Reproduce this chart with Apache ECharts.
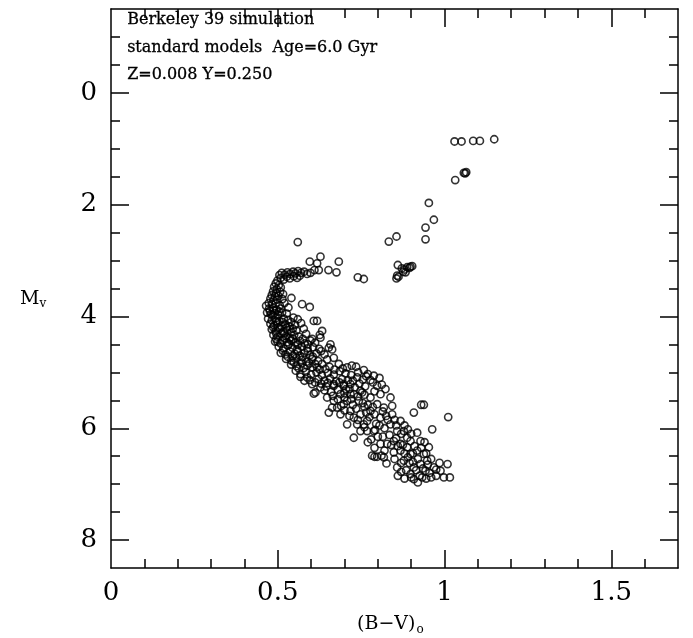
<!DOCTYPE html>
<html>
<head>
<meta charset="utf-8">
<script src="https://cdn.jsdelivr.net/npm/echarts@6/dist/echarts.min.js"></script>
<style>
  html, body { margin: 0; padding: 0; background: #fff; }
  #chart { width: 693px; height: 638px; }
</style>
</head>
<body>
<div id="chart"></div>
<script>
// Colour–magnitude diagram: (B-V)o against Mv, one open circle per simulated star.

// Red giant branch and red clump
const giantBranch = [
  [1.030,0.87],[1.051,0.87],[1.086,0.86],[1.106,0.86],[1.149,0.83],
  [1.058,1.43],[1.062,1.44],[1.065,1.42],[1.032,1.56],
  [0.953,1.97],[0.968,2.27],[0.943,2.41],[0.943,2.62],
  [0.833,2.66],[0.856,2.57],
  [0.860,3.08],[0.872,3.14],[0.880,3.16],[0.888,3.12],[0.898,3.11],[0.903,3.10],[0.895,3.13],
  [0.876,3.20],[0.883,3.21],[0.858,3.27],[0.856,3.32],[0.862,3.29]
];

// Subgiant branch
const subgiantBranch = [
  [0.560,2.67],[0.628,2.93],[0.596,3.02],[0.618,3.05],[0.683,3.02],[0.652,3.17],
  [0.676,3.21],[0.610,3.17],[0.623,3.17],[0.740,3.30],[0.758,3.33]
];

// Turn-off hook
const turnoff = [
  [0.505,3.26],[0.512,3.22],[0.521,3.25],[0.529,3.21],[0.537,3.24],[0.546,3.20],[0.553,3.23],
  [0.561,3.19],[0.570,3.22],[0.579,3.20],[0.588,3.24],[0.598,3.22],[0.509,3.31],[0.518,3.34],
  [0.527,3.29],[0.536,3.32],[0.548,3.28],[0.558,3.31],[0.566,3.27],[0.499,3.36],[0.494,3.41],
  [0.503,3.44],[0.489,3.47],[0.497,3.51],[0.509,3.48],[0.486,3.55],[0.495,3.58],[0.507,3.56],
  [0.482,3.62],[0.491,3.64],[0.502,3.63],[0.516,3.60],[0.478,3.68],[0.487,3.71],[0.498,3.70],
  [0.514,3.69],[0.541,3.67],[0.473,3.76],[0.483,3.78],[0.494,3.77],[0.506,3.80],[0.520,3.76],
  [0.465,3.81],[0.474,3.86],[0.486,3.85],[0.497,3.88],[0.509,3.86],[0.532,3.84],[0.573,3.78],
  [0.596,3.83]
];

// Upper main sequence
const upperMainSeq = [
  [0.468,3.93],[0.479,3.96],[0.490,3.94],[0.501,3.97],[0.513,3.93],[0.527,3.95],[0.484,3.98],
  [0.471,4.04],[0.482,4.07],[0.494,4.03],[0.505,4.08],[0.518,4.04],[0.531,4.06],[0.547,4.02],
  [0.608,4.08],[0.618,4.08],[0.478,4.13],[0.489,4.16],[0.499,4.12],[0.511,4.17],[0.523,4.14],
  [0.536,4.18],[0.552,4.15],[0.570,4.12],[0.482,4.23],[0.494,4.26],[0.506,4.22],[0.517,4.27],
  [0.529,4.24],[0.541,4.28],[0.556,4.25],[0.578,4.22],[0.633,4.26],[0.626,4.33],[0.628,4.38],
  [0.487,4.33],[0.499,4.36],[0.511,4.31],[0.524,4.35],[0.536,4.38],[0.549,4.33],[0.563,4.36],
  [0.585,4.31],[0.603,4.40],[0.492,4.45],[0.499,4.45],[0.514,4.42],[0.527,4.46],[0.540,4.43],
  [0.553,4.47],[0.567,4.44],[0.581,4.48],[0.598,4.43],[0.612,4.47],[0.658,4.50],[0.653,4.56],
  [0.663,4.59],[0.503,4.54],[0.517,4.57],[0.530,4.52],[0.544,4.56],[0.558,4.59],[0.572,4.54],
  [0.589,4.57],[0.606,4.55],[0.624,4.58],[0.509,4.65],[0.523,4.68],[0.537,4.63],[0.551,4.67],
  [0.566,4.70],[0.580,4.65],[0.597,4.69],[0.616,4.66],[0.640,4.68],
  [0.476,3.90],[0.488,3.89],[0.503,3.91],[0.495,4.09],[0.486,4.19],[0.500,4.20],[0.515,4.10],
  [0.526,4.20],[0.540,4.10],[0.560,4.05],[0.495,4.40],[0.508,4.48],[0.521,4.39],[0.534,4.49],
  [0.546,4.40],[0.560,4.51],[0.575,4.40],[0.590,4.50],[0.515,4.61],[0.530,4.72],[0.545,4.71],
  [0.560,4.62],[0.574,4.73],[0.590,4.62],[0.605,4.72],[0.630,4.62],[0.495,4.30],[0.520,4.30],
  [0.545,4.22]
];

// Middle main sequence
const midMainSeq = [
  [0.525,4.76],[0.541,4.79],[0.556,4.74],[0.571,4.78],[0.586,4.81],[0.603,4.76],[0.621,4.80],
  [0.648,4.77],[0.668,4.74],[0.540,4.86],[0.556,4.89],[0.572,4.84],[0.588,4.88],[0.604,4.91],
  [0.618,4.91],[0.633,4.85],[0.643,4.94],[0.683,4.85],[0.708,4.91],[0.722,4.88],[0.735,4.90],
  [0.758,4.96],[0.770,5.03],[0.788,5.06],[0.554,4.97],[0.568,5.03],[0.584,4.99],[0.600,5.04],
  [0.616,5.00],[0.632,5.05],[0.650,5.01],[0.668,5.04],[0.686,4.98],[0.703,5.02],[0.720,5.05],
  [0.741,5.00],[0.568,5.08],[0.588,5.09],[0.603,5.21],[0.622,5.12],[0.640,5.15],[0.657,5.11],
  [0.675,5.16],[0.693,5.12],[0.710,5.14],[0.738,5.09],[0.755,5.13],[0.778,5.14],[0.805,5.10],
  [0.668,5.21],[0.698,5.21],[0.718,5.21],[0.628,5.27],[0.645,5.25],[0.668,5.24],[0.698,5.24],
  [0.731,5.27],[0.762,5.25],[0.798,5.24],[0.823,5.30],[0.613,5.36],[0.608,5.38],
  [0.548,4.82],[0.563,4.93],[0.578,4.92],[0.595,4.84],[0.612,4.85],[0.626,4.95],[0.655,4.90],
  [0.670,4.95],[0.695,4.93],[0.580,5.15],[0.596,5.14],[0.612,5.18],[0.630,5.20],[0.650,5.19],
  [0.685,5.18],[0.705,5.30],[0.725,5.15],[0.745,5.20],[0.765,5.07],[0.785,5.18],[0.640,5.32],
  [0.660,5.35],[0.680,5.31],[0.700,5.37],[0.715,5.30],[0.740,5.43],[0.760,5.40],[0.790,5.34],
  [0.812,5.22]
];

// Lower main sequence
const lowerMainSeq = [
  [0.648,5.45],[0.668,5.51],[0.663,5.63],[0.698,5.57],[0.718,5.69],[0.708,5.93],[0.728,6.17],
  [0.748,6.05],[0.768,5.87],[0.778,5.69],[0.788,6.05],[0.792,6.03],[0.808,5.81],[0.818,5.63],
  [0.843,5.60],[0.843,5.75],[0.838,5.93],[0.868,5.87],[0.858,6.05],[0.878,6.05],[0.888,6.17],
  [0.868,6.28],[0.848,6.23],[0.828,6.28],[0.808,6.28],[0.798,6.51],[0.826,6.63],[0.858,6.70],
  [0.878,6.58],[0.898,6.46],[0.918,6.40],[0.938,6.46],[0.948,6.58],[0.928,6.64],[0.908,6.70],
  [0.898,6.82],[0.908,6.91],[0.920,6.97],[0.933,6.88],[0.943,6.76],[0.968,6.70],[0.988,6.76],
  [0.998,6.88],[1.016,6.88],[1.009,6.64],[0.963,6.02],[1.011,5.80],[0.908,5.72],[0.930,5.58],
  [0.938,5.58],[0.918,6.08],[0.928,6.23],[0.953,6.34],[0.898,6.23],[0.888,6.34],[0.868,6.40],
  [0.848,6.43],[0.783,6.49],[0.818,6.52],[0.768,6.05],[0.758,5.93],[0.738,5.93],[0.748,5.75],
  [0.688,5.75],[0.728,5.81],[0.798,5.57],[0.808,5.39],[0.838,5.45],[0.778,5.45],[0.753,5.36],
  [0.718,5.39],[0.688,5.39],[0.743,5.51],[0.678,5.63],[0.708,5.51],[0.728,5.39],[0.748,5.33],
  [0.653,5.72],[0.790,6.51],[0.811,6.49],[0.700,5.45],[0.725,5.58],[0.760,5.62],[0.775,5.80],
  [0.795,5.92],[0.820,6.00],[0.835,6.12],[0.855,6.18],[0.875,6.30],[0.890,6.52],[0.905,6.60],
  [0.920,6.55],[0.935,6.72],[0.955,6.80],[0.975,6.85],[0.885,6.75],[0.870,6.62],[0.850,6.55],
  [0.800,6.15],[0.780,6.20],[0.760,5.98],[0.735,5.65],[0.690,5.60],[0.815,5.70],[0.830,5.85],
  [0.855,5.95],[0.880,5.95],[0.900,6.10],[0.910,6.32],[0.940,6.25],[0.860,6.85],[0.880,6.90],
  [0.960,6.55],[0.985,6.62],
  [0.665,5.42],[0.680,5.48],[0.720,5.48],[0.755,5.55],[0.770,5.58],[0.785,5.62],[0.700,5.68],
  [0.715,5.78],[0.740,5.85],[0.765,5.72],[0.790,5.75],[0.805,5.95],[0.825,5.78],[0.850,5.85],
  [0.870,6.10],[0.890,6.02],[0.815,6.15],[0.840,6.30],[0.860,6.32],[0.880,6.45],[0.895,6.62],
  [0.915,6.75],[0.925,6.85],[0.945,6.90],[0.960,6.88],[0.870,6.78],[0.900,6.88],[0.950,6.65],
  [0.975,6.74],[0.930,6.35],[0.945,6.45],[0.905,6.45],[0.820,6.40],[0.790,6.35],[0.770,6.25]
];

// Axis ticks and labels
const xMajor = [0, 0.5, 1, 1.5];
const xMinor = [0.1,0.2,0.3,0.4,0.6,0.7,0.8,0.9,1.1,1.2,1.3,1.4,1.6];
const yMajor = [0, 2, 4, 6, 8];
const yMinor = [-1,-0.5,0.5,1,1.5,2.5,3,3.5,4.5,5,5.5,6.5,7,7.5,8];

const notes = ['Berkeley 39 simulation', 'standard models  Age=6.0 Gyr', 'Z=0.008 Y=0.250'];

const SERIF = '"DejaVu Serif", "Liberation Serif", serif';
const INK = '#000';

function xAxisDef(position, ticks, len, showLine, labels) {
  return {
    type: 'value', position: position, min: 0, max: 1.7,
    axisLine: { show: showLine, onZero: false, lineStyle: { color: INK, width: 1.5 } },
    axisTick: { show: true, inside: true, length: len, customValues: ticks,
                lineStyle: { color: INK, width: 1.5 } },
    axisLabel: labels ? { show: true, customValues: labels, margin: 12,
                color: INK, fontFamily: SERIF, fontSize: 26,
                formatter: v => String(v) } : { show: false },
    splitLine: { show: false }
  };
}
function yAxisDef(position, ticks, len, showLine, labels) {
  return {
    type: 'value', position: position, min: -1.5, max: 8.5, inverse: true,
    axisLine: { show: showLine, onZero: false, lineStyle: { color: INK, width: 1.5 } },
    axisTick: { show: true, inside: true, length: len, customValues: ticks,
                lineStyle: { color: INK, width: 1.5 } },
    axisLabel: labels ? { show: true, customValues: labels, margin: 14,
                color: INK, fontFamily: SERIF, fontSize: 26,
                formatter: v => String(v) } : { show: false },
    splitLine: { show: false }
  };
}

function starSeries(name, data) {
  return {
    name: name, type: 'scatter', xAxisIndex: 0, yAxisIndex: 0,
    data: data, symbol: 'circle', symbolSize: 7.2,
    itemStyle: { color: 'rgba(0,0,0,0)', borderColor: INK, borderWidth: 1.6 },
    emphasis: { disabled: true }
  };
}

const chart = echarts.init(document.getElementById('chart'));
chart.setOption({
  animation: false,
  backgroundColor: '#fff',
  grid: { left: 111, right: 15, top: 9, bottom: 70 },
  xAxis: [
    xAxisDef('bottom', xMajor.slice(1), 18, true, xMajor),
    xAxisDef('bottom', xMinor, 9, false, null),
    xAxisDef('top', xMajor.slice(1), 18, true, null),
    xAxisDef('top', xMinor, 9, false, null)
  ],
  yAxis: [
    yAxisDef('left', yMajor, 18, true, yMajor),
    yAxisDef('left', yMinor, 9, false, null),
    yAxisDef('right', yMajor, 18, true, null),
    yAxisDef('right', yMinor, 9, false, null)
  ],
  series: [
    starSeries('giant branch', giantBranch),
    starSeries('subgiant branch', subgiantBranch),
    starSeries('turn-off', turnoff),
    starSeries('upper main sequence', upperMainSeq),
    starSeries('middle main sequence', midMainSeq),
    starSeries('lower main sequence', lowerMainSeq)
  ],
  graphic: [
    ...notes.map((t, i) => ({
      type: 'text', left: 127, top: 12 + i * 27.5,
      style: { text: t, font: '16px ' + SERIF, fill: INK, stroke: INK, lineWidth: 0.3 }
    })),
    {
      type: 'text', left: 20, top: 290,
      style: {
        text: '{m|M}{s|v}', fill: INK,
        rich: {
          m: { fontFamily: SERIF, fontSize: 19, fill: INK },
          s: { fontFamily: SERIF, fontSize: 12, fill: INK, verticalAlign: 'bottom', padding: [8, 0, 0, 0] }
        }
      }
    },
    {
      type: 'text', left: 357, top: 615,
      style: {
        text: '{m|(B\u2212V)}{s|o}', fill: INK,
        rich: {
          m: { fontFamily: SERIF, fontSize: 19, fill: INK },
          s: { fontFamily: SERIF, fontSize: 12, fill: INK, padding: [10, 0, 0, 1] }
        }
      }
    }
  ]
});
</script>
</body>
</html>
